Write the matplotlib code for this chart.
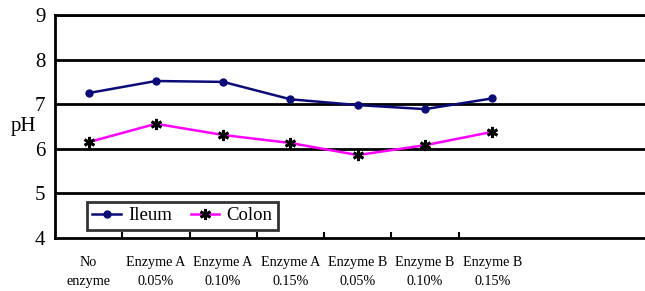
import matplotlib.pyplot as plt

plt.rcParams['font.family'] = ['Liberation Serif', 'DejaVu Serif']

categories = ["No\nenzyme", "Enzyme A\n0.05%", "Enzyme A\n0.10%", "Enzyme A\n0.15%",
              "Enzyme B\n0.05%", "Enzyme B\n0.10%", "Enzyme B\n0.15%"]
ileum = [7.25, 7.52, 7.50, 7.11, 6.98, 6.89, 7.13]
colon = [6.15, 6.56, 6.31, 6.13, 5.86, 6.08, 6.38]
yticks = [4, 5, 6, 7, 8, 9]

fig = plt.figure(figsize=(6.45, 2.91), dpi=100)
ax = fig.add_axes([55 / 645, 1 - 238 / 291, 1 - 55 / 645, 223 / 291])

x = list(range(len(categories)))
for y in yticks[1:]:
    ax.axhline(y, color="black", linewidth=2, zorder=1)

ax.plot(x, ileum, color="#0c0c78", linewidth=1.8, marker="o", markersize=5,
        label="Ileum", zorder=3)
ax.plot(x, colon, color="#ff00ff", linewidth=1.8, marker=(6, 2, 0), markersize=8,
        markeredgecolor="black", markeredgewidth=2, label="Colon", zorder=3)

ax.set_xlim(-0.5, 8.27)
ax.set_ylim(4, 9)
ax.set_yticks(yticks)
ax.tick_params(axis="y", length=0, labelsize=15, pad=7)

ax.set_xticks(x)
ax.set_xticklabels(categories, fontsize=10.2, linespacing=1.6)
ax.set_xticks([i + 0.5 for i in range(6)], minor=True)
ax.tick_params(axis="x", which="major", length=0, pad=13)
ax.tick_params(axis="x", which="minor", direction="in", length=4, width=1.5)

for s in ["left", "bottom", "top"]:
    ax.spines[s].set_linewidth(2)
ax.spines["right"].set_visible(False)

ax.set_ylabel("pH", fontsize=15, rotation=0, labelpad=8, va="center")

leg = ax.legend(loc="lower left", bbox_to_anchor=(0.054, 0.036), borderaxespad=0,
                ncol=2, fontsize=13.5, frameon=True, fancybox=False, edgecolor="black",
                handlelength=1.5, columnspacing=1.0, handletextpad=0.4, borderpad=0.3)
leg.get_frame().set_linewidth(2)

fig.savefig("out.png", dpi=100)
